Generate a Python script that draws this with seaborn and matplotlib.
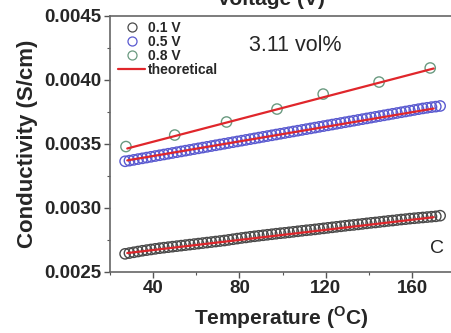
import matplotlib
matplotlib.use("Agg")
import matplotlib.pyplot as plt
import seaborn as sns
import pandas as pd
from matplotlib.lines import Line2D
from matplotlib.ticker import MultipleLocator

sns.set_theme(style="white")
plt.rcParams['font.family'] = ['Liberation Sans', 'DejaVu Sans']
plt.rcParams['mathtext.fontset'] = 'custom'
plt.rcParams['mathtext.rm'] = 'Liberation Sans:bold'
plt.rcParams['mathtext.bf'] = 'Liberation Sans:bold'

# ---- data ----
temp_dense = [27, 29, 31, 33, 35, 37, 39, 41, 43, 45, 47, 49, 51, 53, 55, 57, 59, 61, 63, 65,
              67, 69, 71, 73, 75, 77, 79, 81, 83, 85, 87, 89, 91, 93, 95, 97, 99, 101, 103, 105,
              107, 109, 111, 113, 115, 117, 119, 121, 123, 125, 127, 129, 131, 133, 135, 137, 139,
              141, 143, 145, 147, 149, 151, 153, 155, 157, 159, 161, 163, 165, 167, 169, 171, 173]
cond_01 = [0.002642, 0.002648, 0.002654, 0.002660, 0.002666, 0.002671, 0.002676, 0.002681,
           0.002686, 0.002690, 0.002694, 0.002698, 0.002702, 0.002706, 0.002710, 0.002714,
           0.002718, 0.002722, 0.002726, 0.002730, 0.002734, 0.002738, 0.002742, 0.002746,
           0.002751, 0.002756, 0.002761, 0.002766, 0.002770, 0.002775, 0.002779, 0.002783,
           0.002787, 0.002791, 0.002795, 0.002799, 0.002803, 0.002806, 0.002810, 0.002814,
           0.002818, 0.002822, 0.002826, 0.002829, 0.002833, 0.002837, 0.002841, 0.002845,
           0.002849, 0.002853, 0.002857, 0.002861, 0.002865, 0.002868, 0.002872, 0.002876,
           0.002880, 0.002884, 0.002887, 0.002891, 0.002895, 0.002899, 0.002902, 0.002906,
           0.002910, 0.002913, 0.002917, 0.002920, 0.002923, 0.002926, 0.002929, 0.002932,
           0.002935, 0.002940]
cond_05 = [0.003365, 0.003370, 0.003376, 0.003382, 0.003388, 0.003394, 0.003400, 0.003406,
           0.003412, 0.003418, 0.003424, 0.003430, 0.003436, 0.003442, 0.003448, 0.003454,
           0.003460, 0.003466, 0.003472, 0.003478, 0.003484, 0.003490, 0.003496, 0.003502,
           0.003508, 0.003514, 0.003520, 0.003526, 0.003532, 0.003538, 0.003544, 0.003550,
           0.003556, 0.003562, 0.003568, 0.003574, 0.003580, 0.003586, 0.003592, 0.003598,
           0.003604, 0.003610, 0.003616, 0.003622, 0.003628, 0.003634, 0.003640, 0.003646,
           0.003652, 0.003658, 0.003664, 0.003670, 0.003676, 0.003682, 0.003688, 0.003694,
           0.003700, 0.003706, 0.003712, 0.003718, 0.003724, 0.003730, 0.003736, 0.003742,
           0.003748, 0.003754, 0.003760, 0.003766, 0.003772, 0.003778, 0.003783, 0.003788,
           0.003792, 0.003797]
temp_08 = [27.4, 50, 74, 97.4, 118.8, 144.7, 168.4]
cond_08 = [0.003480, 0.003570, 0.003672, 0.003773, 0.003890, 0.003984, 0.004094]

theo_temp = [28, 170]
theo_01 = [0.002648, 0.002928]
theo_05 = [0.003372, 0.003777]
theo_08 = [0.003465, 0.004090]

series_labels = ['0.1 V', '0.5 V', '0.8 V', 'theoretical']
colors = ['#4a4a4a', '#5a5ad0', '#6a9a80', '#e0262b']

x_ticks = [40, 80, 120, 160]
y_ticks = [0.0025, 0.0030, 0.0035, 0.0040, 0.0045]

# ---- figure ----
fig = plt.figure(figsize=(4.52, 3.33), dpi=100)
ax = fig.add_axes([110/452, 1-272/333, 1-110/452, (272-16)/333])

for t, c, col in [(temp_dense, cond_01, colors[0]), (temp_dense, cond_05, colors[1]),
                  (temp_08, cond_08, colors[2])]:
    df = pd.DataFrame({'T': t, 'C': c})
    sns.scatterplot(data=df, x='T', y='C', ax=ax, marker='o', s=55,
                    facecolors='none', edgecolor=col, linewidth=1.0, zorder=2)

for th in [theo_01, theo_05, theo_08]:
    df = pd.DataFrame({'T': theo_temp, 'C': th})
    sns.lineplot(data=df, x='T', y='C', ax=ax, color=colors[3], linewidth=1.6, zorder=3)

ax.set_xlim(20, 178.5)
ax.set_ylim(0.0025, 0.0045)
ax.set_xticks(x_ticks)
ax.set_yticks(y_ticks)
ax.set_yticklabels([f'{v:.4f}' for v in y_ticks])
ax.xaxis.set_minor_locator(MultipleLocator(20))
ax.yaxis.set_minor_locator(MultipleLocator(0.00025))

for s in ['left', 'bottom', 'top']:
    ax.spines[s].set_color('#666666')
    ax.spines[s].set_linewidth(1.2)
ax.spines['right'].set_visible(False)
ax.tick_params(which='major', direction='out', length=4, width=1, color='#555555',
               labelsize=13.5, pad=2, left=True, bottom=True)
ax.tick_params(which='minor', direction='out', length=2.5, width=0.8, color='#555555',
               left=True, bottom=True)
for lab in ax.get_xticklabels() + ax.get_yticklabels():
    lab.set_fontweight('bold')

ax.set_xlabel(r'Temperature ($^{\mathrm{O}}$C)', fontsize=15, fontweight='bold', labelpad=5)
ax.set_ylabel('Conductivity (S/cm)', fontsize=16, fontweight='bold', labelpad=5)

handles = [Line2D([], [], marker='o', linestyle='', markerfacecolor='none',
                  markeredgecolor=colors[i], markersize=6.5, markeredgewidth=0.9)
           for i in range(3)]
handles.append(Line2D([], [], color=colors[3], linewidth=1.6))
leg = ax.legend(handles, series_labels, loc='upper left', frameon=False,
                prop={'weight': 'bold', 'size': 10}, handlelength=2.0,
                borderaxespad=0.15, labelspacing=0.0, handletextpad=0.2,
                bbox_to_anchor=(0.0, 1.012))

ax.text(0.405, 0.885, '3.11 vol%', transform=ax.transAxes, fontsize=15.5,
        ha='left', va='center')
ax.text(0.955, 0.09, 'C', transform=ax.transAxes, fontsize=14, ha='center', va='center')

fig.text(0.60, 1-5/333, 'Voltage (V)', fontsize=15, fontweight='bold',
         ha='center', va='baseline')

fig.savefig('out.png', dpi=100)
